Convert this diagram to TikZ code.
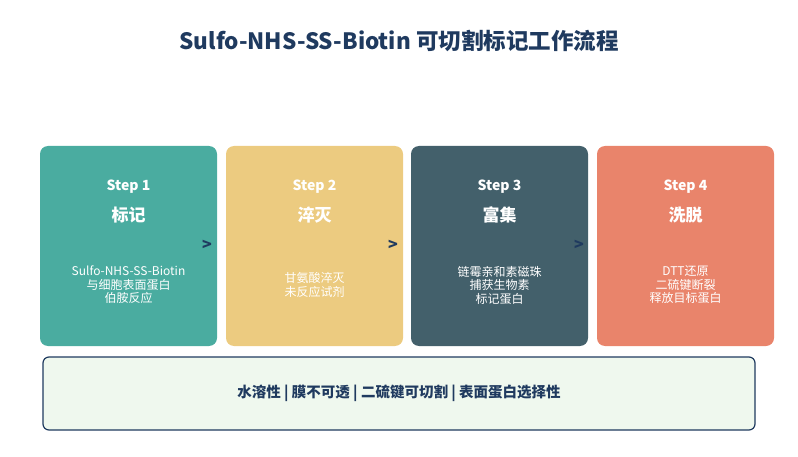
\documentclass[tikz,border=0pt]{standalone}
\usepackage{fontspec}
\setmainfont{Noto Sans CJK SC}
\usetikzlibrary{positioning}
\definecolor{navy}{HTML}{1F3A5F}
\definecolor{tealc}{HTML}{4AACA0}
\definecolor{sandc}{HTML}{ECCB80}
\definecolor{slatec}{HTML}{43606B}
\definecolor{salmonc}{HTML}{E9846B}
\definecolor{mintc}{HTML}{EFF8EE}
\begin{document}
\begin{tikzpicture}[x=1pt,y=-1pt,
stepbox/.style={rectangle,rounded corners=8pt,minimum width=177pt,minimum height=200pt,inner sep=0pt},
stephead/.style={text=white,font=\fontsize{14}{16}\selectfont\bfseries},
steptitle/.style={text=white,font=\fontsize{17}{19}\selectfont\bfseries},
stepdesc/.style={text=white,font=\fontsize{12}{13.5}\selectfont,align=center},
nxt/.style={text=navy,font=\fontsize{16}{16}\selectfont\bfseries}]
\useasboundingbox (0,0) rectangle (798,457);
\node (title) at (399,41) [text=navy,font=\fontsize{22.5}{24}\selectfont\bfseries] {Sulfo-NHS-SS-Biotin 可切割标记工作流程};
% steps
\node (s1) at (128.5,246) [stepbox,fill=tealc] {};
\node (s2) at (314.5,246) [stepbox,fill=sandc] {};
\node (s3) at (499.5,246) [stepbox,fill=slatec] {};
\node (s4) at (685.5,246) [stepbox,fill=salmonc] {};
\node (h1) at (128.5,187) [stephead] {Step 1};
\node (n1) at (128.5,215) [steptitle] {标记};
\node (d1) at (128.5,285) [stepdesc] {Sulfo-NHS-SS-Biotin\\与细胞表面蛋白\\伯胺反应};
\node (h2) at (314.5,187) [stephead] {Step 2};
\node (n2) at (314.5,215) [steptitle] {淬灭};
\node (d2) at (314.5,285) [stepdesc] {甘氨酸淬灭\\未反应试剂};
\node (h3) at (499.5,187) [stephead] {Step 3};
\node (n3) at (499.5,215) [steptitle] {富集};
\node (d3) at (499.5,285) [stepdesc] {链霉亲和素磁珠\\捕获生物素\\标记蛋白};
\node (h4) at (685.5,187) [stephead] {Step 4};
\node (n4) at (685.5,215) [steptitle] {洗脱};
\node (d4) at (685.5,285) [stepdesc] {DTT还原\\二硫键断裂\\释放目标蛋白};
\node (a1) at (207,245) [nxt] {>};
\node (a2) at (393,245) [nxt] {>};
\node (a3) at (579,245) [nxt] {>};
% properties
\node (props) at (399,393.5) [rectangle,rounded corners=6pt,draw=navy,line width=1.2pt,fill=mintc,
    minimum width=712pt,minimum height=73pt,text=navy,font=\fontsize{14.5}{16}\selectfont\bfseries]
    {水溶性 | 膜不可透 | 二硫键可切割 | 表面蛋白选择性};
\end{tikzpicture}
\end{document}
